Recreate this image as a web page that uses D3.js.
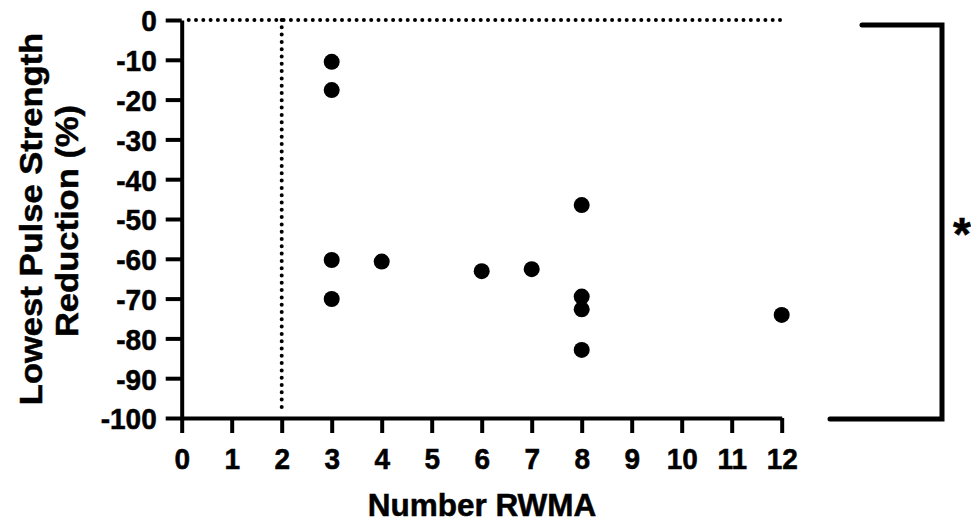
<!DOCTYPE html>
<html>
<head>
<meta charset="utf-8">
<script src="https://cdn.jsdelivr.net/npm/d3@7"></script>
<style>
  body { margin: 0; background: #fff; }
  text { font-family: "Liberation Sans", Arial, sans-serif; font-weight: bold; fill: #000; stroke: #000; stroke-width: 0.5px; }
</style>
</head>
<body>
<div id="chart"></div>
<script>
// data
var rwma = [3, 3, 3, 3, 4, 6, 7, 8, 8, 8, 8, 12];
var reduction = [-10.5, -17.6, -60.3, -70.1, -60.7, -63.1, -62.6, -46.5, -69.5, -72.7, -82.9, -74.1];
var xTicks = [0, 1, 2, 3, 4, 5, 6, 7, 8, 9, 10, 11, 12];
var yTicks = [0, -10, -20, -30, -40, -50, -60, -70, -80, -90, -100];
var refX = 2, refY = 0;
var sigLabel = "*";

var width = 971, height = 522;
var stretch = 1.08;

var x = d3.scaleLinear().domain([0, 12]).range([181.7, 781.7]);
var y = d3.scaleLinear().domain([-100, 0]).range([418, 20]);

var svg = d3.select("#chart").append("svg")
  .attr("width", width)
  .attr("height", height);

// dotted reference lines
svg.append("line")
  .attr("x1", x(0) + 7).attr("x2", x(12) + 3)
  .attr("y1", y(refY)).attr("y2", y(refY))
  .attr("stroke", "#000").attr("stroke-width", 4)
  .attr("stroke-linecap", "round")
  .attr("stroke-dasharray", "0,7.3");
svg.append("line")
  .attr("x1", x(refX)).attr("x2", x(refX))
  .attr("y1", y(0)).attr("y2", y(-100) - 4)
  .attr("stroke", "#000").attr("stroke-width", 4)
  .attr("stroke-linecap", "round")
  .attr("stroke-dasharray", "0,7.3");

var xAxis = svg.append("g")
  .attr("transform", "translate(0," + y(-100) + ")")
  .call(d3.axisBottom(x).tickValues(xTicks).tickSize(15).tickSizeOuter(0)
    .tickFormat(function(d) { return String(d); }));
var yAxis = svg.append("g")
  .attr("transform", "translate(" + x(0) + ",0)")
  .call(d3.axisLeft(y).tickValues(yTicks).tickSize(16).tickPadding(9).tickSizeOuter(0)
    .tickFormat(function(d) { return String(d); }));

[xAxis, yAxis].forEach(function(a) {
  a.select(".domain").attr("stroke-width", 4);
  a.selectAll(".tick line").attr("stroke-width", 4);
  a.selectAll(".tick text")
    .style("font-size", "28px")
    .style("font-family", "Liberation Sans, Arial, sans-serif")
    .style("font-weight", "bold")
    .attr("transform", "scale(1," + stretch + ")");
});
xAxis.selectAll(".tick text").attr("y", 51 / stretch).attr("dy", 0);
yAxis.selectAll(".tick text").attr("dy", "0.36em");

// points
svg.selectAll("circle.pt")
  .data(rwma)
  .enter()
  .append("circle")
  .attr("class", "pt")
  .attr("cx", function(d) { return x(d); })
  .attr("cy", function(d, i) { return y(reduction[i]); })
  .attr("r", 8)
  .attr("fill", "#000");

// axis titles
svg.append("text")
  .attr("x", 482).attr("y", 516)
  .attr("text-anchor", "middle")
  .style("font-size", "31.5px")
  .text("Number RWMA");

svg.append("text")
  .attr("transform", "translate(42,219) rotate(-90) scale(" + stretch + ",1)")
  .attr("text-anchor", "middle")
  .style("font-size", "32px")
  .text("Lowest Pulse Strength");
svg.append("text")
  .attr("transform", "translate(78,221) rotate(-90) scale(" + stretch + ",1)")
  .attr("text-anchor", "middle")
  .style("font-size", "32px")
  .text("Reduction (%)");

// significance bracket
svg.append("path")
  .attr("d", "M862,25H942V419H830")
  .attr("fill", "none")
  .attr("stroke", "#000")
  .attr("stroke-width", 5)
  .attr("stroke-linecap", "round");
svg.append("text")
  .attr("x", 962).attr("y", 250)
  .attr("text-anchor", "middle")
  .style("font-size", "46px")
  .text(sigLabel);
</script>
</body>
</html>
